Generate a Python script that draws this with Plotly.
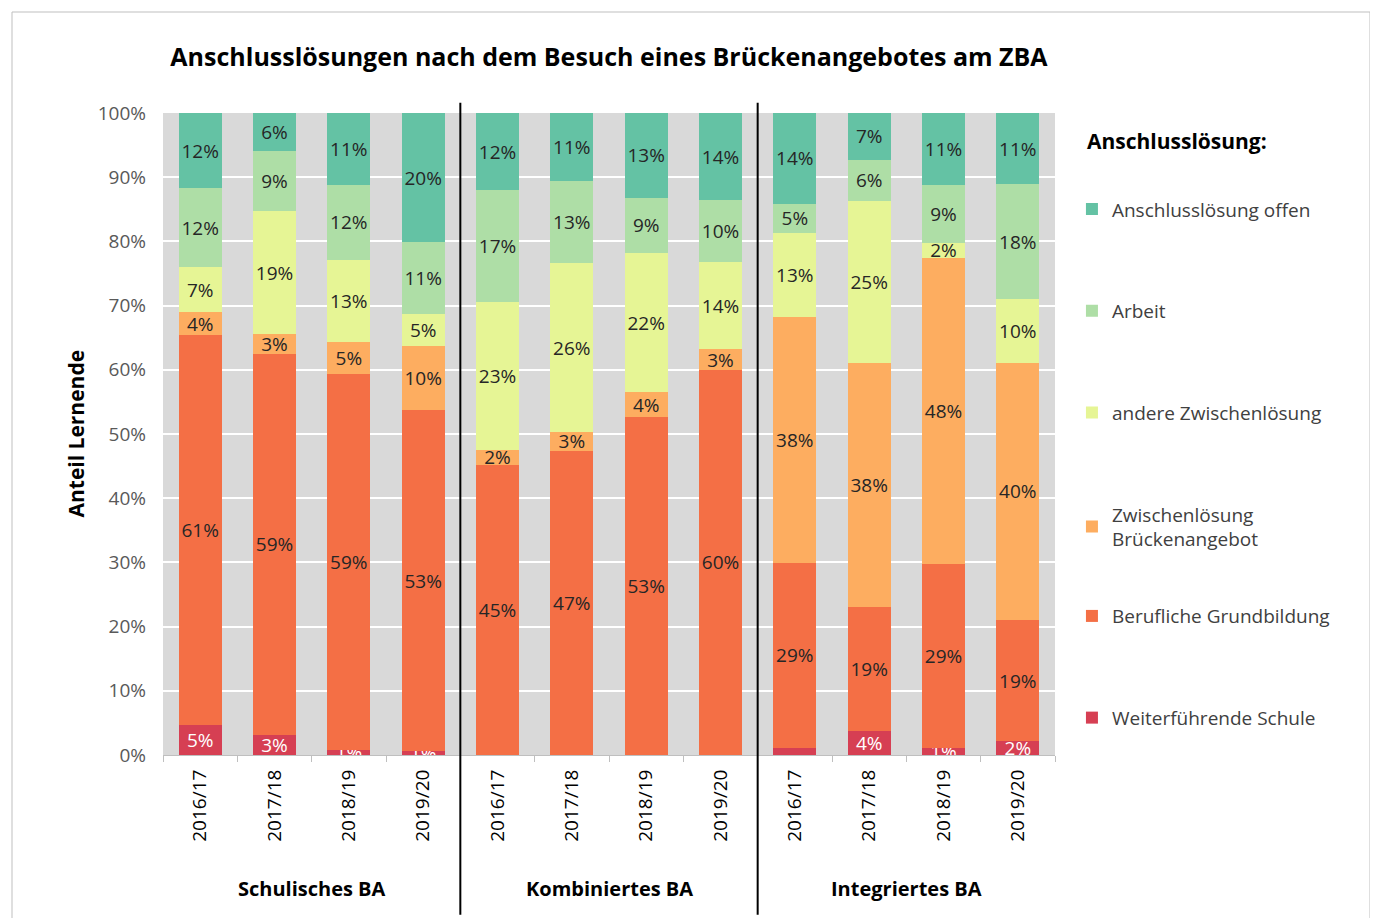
import plotly.graph_objects as go

groups = ["Schulisches BA", "Kombiniertes BA", "Integriertes BA"]
years = ["2016/17", "2017/18", "2018/19", "2019/20"]

# shares in % per column (group-major order)
weiterfuehrende = [4.7, 3.1, 0.8, 0.6, 0, 0, 0, 0, 1.1, 3.7, 1.1, 2.2]
weiterfuehrende_text = ["5%", "3%", "1%", "1%", "", "", "", "", "", "4%", "1%", "2%"]
berufliche = [60.7, 59.4, 58.6, 53.1, 45.2, 47.4, 52.6, 60.0, 28.8, 19.4, 28.7, 18.8]
zwischen_ba = [3.6, 3.1, 4.9, 10.0, 2.3, 2.9, 3.9, 3.2, 38.3, 38.0, 47.6, 40.1]
andere = [7.0, 19.1, 12.8, 5.0, 23.1, 26.3, 21.7, 13.6, 13.1, 25.2, 2.4, 9.9]
arbeit = [12.3, 9.4, 11.7, 11.2, 17.4, 12.8, 8.6, 9.6, 4.6, 6.4, 9.0, 17.9]
offen = [11.7, 5.9, 11.2, 20.1, 12.0, 10.6, 13.2, 13.6, 14.1, 7.3, 11.2, 11.1]

tick_labels = years * len(groups)
xpos = list(range(len(tick_labels)))

FONT = "Open Sans"

# name, values, colour, label colour, labels, legend box
series = [
    ("Weiterführende Schule", weiterfuehrende, "#d63f53", "white", weiterfuehrende_text, "legend2"),
    ("Berufliche Grundbildung", berufliche, "#f46f45", "#262626", None, "legend2"),
    ("Zwischenlösung<br>Brückenangebot", zwischen_ba, "#fdad60", "#262626", None, "legend"),
    ("andere Zwischenlösung", andere, "#e6f595", "#262626", None, "legend"),
    ("Arbeit", arbeit, "#aedea6", "#262626", None, "legend"),
    ("Anschlusslösung offen", offen, "#64c2a4", "#262626", None, "legend"),
]

fig = go.Figure()
for i, (name, vals, color, tcol, txt, leg) in enumerate(series):
    if txt is None:
        txt = [f"{v:.0f}%" for v in vals]
    fig.add_trace(go.Bar(
        x=xpos, y=vals, name=name, legendgroup=name, legend=leg,
        legendrank=len(series) - i,
        marker=dict(color=color, line=dict(width=0)),
        text=txt, textposition="inside", insidetextanchor="middle",
        textangle=0, textfont=dict(family=FONT, size=19, color=tcol),
        hoverinfo="skip",
    ))

legend_style = dict(
    x=1.019, xanchor="left", yanchor="top",
    traceorder="grouped", tracegroupgap=74,
    font=dict(family=FONT, size=19, color="#404040"),
    bgcolor="rgba(0,0,0,0)",
)

fig.update_layout(
    width=1370, height=910,
    barmode="stack", bargap=0.42,
    paper_bgcolor="white", plot_bgcolor="#d9d9d9",
    margin=dict(l=155, r=323, t=105, b=163),
    font=dict(family=FONT, size=19, color="#404040"),
    uniformtext=dict(mode="show", minsize=19),
    title=dict(
        text="<b>Anschlusslösungen nach dem Besuch eines Brückenangebotes am ZBA</b>",
        x=0.5, xref="paper", xanchor="center", y=1 - 49 / 910, yanchor="middle",
        font=dict(family=FONT, size=25, color="black"),
    ),
    legend=dict(legend_style, y=0.8797),
    legend2=dict(legend_style, y=0.246),
    showlegend=True,
)

fig.update_yaxes(
    range=[0, 100], dtick=10, ticksuffix="%",
    showgrid=True, gridcolor="white", gridwidth=2,
    zeroline=False, showline=False, ticks="",
    ticklabelstandoff=16, tickfont=dict(color="#595959", size=19),
)
fig.update_xaxes(
    range=[-0.5, len(xpos) - 0.5],
    tickmode="array", tickvals=xpos, ticktext=tick_labels,
    tickangle=-90, ticks="", ticklabelstandoff=6,
    tickfont=dict(color="black", size=19),
    showgrid=False, zeroline=False,
    showline=True, linecolor="#bfbfbf", linewidth=1,
    minor=dict(tickmode="array", tickvals=[i - 0.5 for i in range(len(xpos) + 1)],
               ticks="outside", ticklen=6, tickcolor="#bfbfbf", showgrid=False),
)

# group labels and separators
n = len(years)
for gi, g in enumerate(groups):
    fig.add_annotation(
        x=gi * n + (n - 1) / 2, y=-0.21 - 14 / 642, xref="x", yref="paper",
        text=f"<b>{g}</b>", showarrow=False,
        font=dict(family=FONT, size=20, color="black"),
    )
for gi in range(1, len(groups)):
    fig.add_shape(type="line", xref="x", yref="paper",
                  x0=gi * n - 0.5, x1=gi * n - 0.5, y0=-0.249, y1=1.016,
                  line=dict(color="black", width=2))

# y-axis title
fig.add_annotation(
    x=-0.116, y=0.5, xref="paper", yref="paper", textangle=-90,
    text="<b>Anteil Lernende</b>", showarrow=False,
    font=dict(family=FONT, size=21, color="black"),
)

# legend title
fig.add_annotation(
    x=1.034, y=(755 - 141) / 642, xref="paper", yref="paper",
    xanchor="left", yanchor="middle", showarrow=False,
    text="<b>Anschlusslösung:</b>",
    font=dict(family=FONT, size=21, color="black"),
)

# chart border
fig.add_shape(type="rect", xref="paper", yref="paper",
              x0=(12 - 163) / 892, x1=(1370 - 163) / 892,
              y0=(755 - 930) / 642, y1=(755 - 12) / 642,
              line=dict(color="#bfbfbf", width=1), layer="below")

fig.write_html("out.html")
